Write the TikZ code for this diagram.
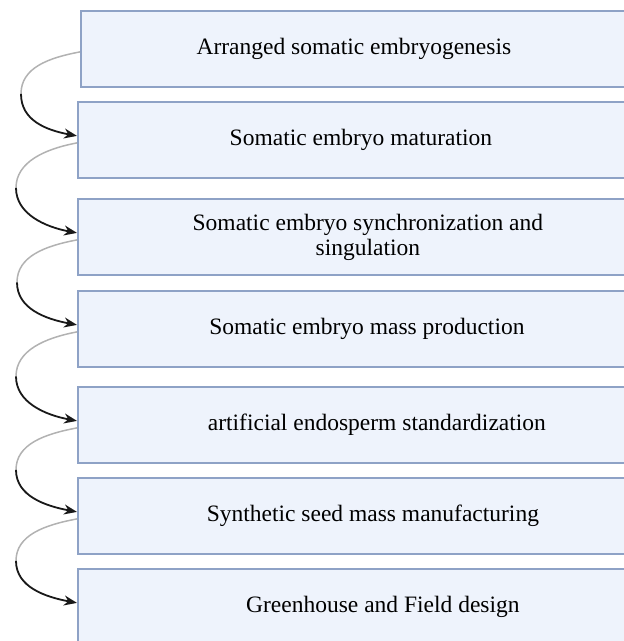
\documentclass[tikz,border=0pt]{standalone}
\usepackage{fontspec}
\setmainfont{Liberation Serif}
\usetikzlibrary{arrows.meta,positioning,calc}

\definecolor{boxfill}{HTML}{EEF3FC}
\definecolor{boxline}{HTML}{8EA2C6}

\tikzset{
  stage/.style={draw=boxline,fill=boxfill,line width=1.8pt,minimum width=548pt,minimum height=76pt,anchor=north west,inner sep=0pt},
  stagetext/.style={font=\fontsize{23.5}{25}\selectfont,align=center,text=black},
  fadeline/.style={gray!60,line width=1.5pt},
  flowarrow/.style={black!90,line width=1.8pt,-{Stealth[length=13pt,width=10pt]}}
}

\begin{document}
\begin{tikzpicture}[x=1pt,y=-1pt]
\useasboundingbox (0,0) rectangle (624,641);

% stages
\foreach \n/\x/\y/\dx/\txt in {
    1/80/10/-1/{Arranged somatic embryogenesis},
    2/77/101/9/{Somatic embryo maturation},
    3/77/198/16/{Somatic embryo synchronization and\\singulation},
    4/77/290/15/{Somatic embryo mass production},
    5/77/386/25/{artificial endosperm standardization},
    6/77/477/21/{Synthetic seed mass manufacturing},
    7/77/568/31/{Greenhouse and Field design}}
  {
    \node[stage] (B\n) at (\x,\y) {};
    \node[stagetext] (T\n) at ([xshift=\dx pt]B\n.center) {\txt};
  }

% curved links
\foreach \n/\lx [evaluate=\n as \m using int(\n+1)] in {1/21,2/16,3/17,4/16,5/16,6/16}
  {
    \coordinate (S\n) at ([yshift=-3pt]B\n.west);
    \coordinate (E\n) at ([yshift=4pt]B\m.west);
    \coordinate (M\n) at ($(S\n)!0.5!(E\n)$);
    \coordinate (L\n) at (\lx,0 |- M\n);
    \draw[fadeline] (S\n) .. controls +(-32,6) and +(0,-26) .. (L\n);
    \draw[flowarrow] (L\n) .. controls +(0,26) and +(-32,-6) .. (E\n);
  }
\end{tikzpicture}
\end{document}
